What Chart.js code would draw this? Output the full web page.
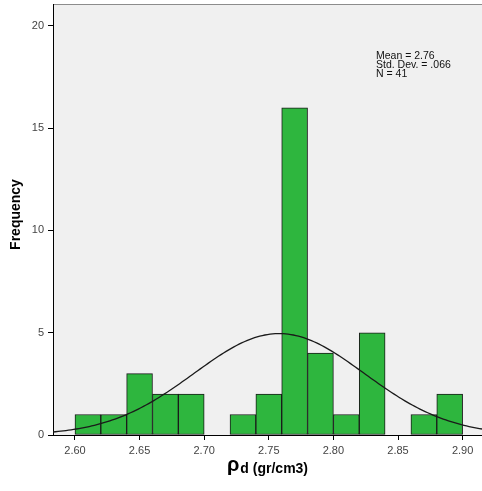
<!DOCTYPE html>
<html>
<head>
<meta charset="utf-8">
<script src="https://cdn.jsdelivr.net/npm/chart.js@4"></script>
<style>
  html, body { margin: 0; padding: 0; background: #fff; }
  #wrap { width: 482px; height: 491px; position: relative; }
</style>
</head>
<body>
<div id="wrap"><canvas id="hist"></canvas></div>
<script>
// ─── Histogram data (bin width 0.02) ───
const binStarts = [2.60, 2.62, 2.64, 2.66, 2.68, 2.70, 2.72, 2.74, 2.76, 2.78, 2.80, 2.82, 2.84, 2.86, 2.88];
const counts    = [1, 1, 3, 2, 2, 0, 1, 2, 16, 4, 1, 5, 0, 1, 2];
const binWidth = 0.02;

const xTicks = [2.60, 2.65, 2.70, 2.75, 2.80, 2.85, 2.90];
const yTicks = [0, 5, 10, 15, 20];

// summary statistics shown in the box
const mean = 2.758;
const sd = 0.066;
const n = 41;
const statLines = ['Mean = 2.76', 'Std. Dev. = .066', 'N = 41'];

const X_MIN = 2.583, X_MAX = 2.915;
const Y_MAX = 21.07;

Chart.defaults.font.family = '"Liberation Sans", Arial, sans-serif';

// normal curve scaled to the histogram (n * bin width * pdf)
const curve = [];
for (let x = X_MIN; x <= X_MAX + 1e-9; x += 0.002) {
    const z = (x - mean) / sd;
    curve.push({ x, y: n * binWidth * Math.exp(-0.5 * z * z) / (sd * Math.sqrt(2 * Math.PI)) });
}

const bars = binStarts.map((b, i) => ({ x: b + binWidth / 2, y: counts[i] }));

// grey plot background + top frame line
const plotBg = {
    id: 'plotBg',
    beforeDraw(chart) {
        const { ctx, chartArea: a } = chart;
        ctx.save();
        ctx.fillStyle = '#f0f0f0';
        ctx.fillRect(a.left, a.top, a.right - a.left, a.bottom - a.top);
        ctx.strokeStyle = '#8c8c8c';
        ctx.lineWidth = 1;
        ctx.beginPath();
        ctx.moveTo(a.left, a.top + 0.5);
        ctx.lineTo(a.right, a.top + 0.5);
        ctx.stroke();
        ctx.restore();
    }
};

// axis titles and stats box text
const labels = {
    id: 'labels',
    afterDraw(chart) {
        const { ctx, chartArea: a } = chart;
        ctx.save();
        ctx.fillStyle = '#000';

        // y title
        ctx.save();
        ctx.translate(16, 214.5);
        ctx.rotate(-Math.PI / 2);
        ctx.font = 'bold 14px "Liberation Sans", Arial, sans-serif';
        ctx.textAlign = 'center';
        ctx.textBaseline = 'middle';
        ctx.fillText('Frequency', 0, 0);
        ctx.restore();

        // x title: rho with bold subscript
        const rhoFont = 'bold 20px "Liberation Sans", Arial, sans-serif';
        const subFont = 'bold 14px "Liberation Sans", Arial, sans-serif';
        const sub = 'd (gr/cm3)';
        ctx.font = rhoFont;
        const wRho = ctx.measureText('ρ').width;
        ctx.font = subFont;
        const wSub = ctx.measureText(sub).width;
        const x0 = (a.left + a.right) / 2 - (wRho + 1 + wSub) / 2;
        ctx.textBaseline = 'alphabetic';
        ctx.textAlign = 'left';
        ctx.font = rhoFont;
        ctx.fillText('ρ', x0, 471);
        ctx.font = subFont;
        ctx.fillText(sub, x0 + wRho + 1, 472.5);

        // stats
        ctx.font = '10.5px "Liberation Sans", Arial, sans-serif';
        ctx.fillStyle = '#111';
        statLines.forEach((t, i) => ctx.fillText(t, 376, 59 + i * 9.2));
        ctx.restore();
    }
};

new Chart(document.getElementById('hist'), {
    data: {
        datasets: [
            {
                type: 'line',
                data: curve,
                borderColor: '#1a1a1a',
                borderWidth: 1.3,
                pointRadius: 0,
                tension: 0,
                order: 0
            },
            {
                type: 'bar',
                data: bars,
                backgroundColor: '#2eb63e',
                borderColor: '#1a1a1a',
                borderWidth: 1,
                borderSkipped: false,
                barPercentage: 1,
                categoryPercentage: 1,
                grouped: false,
                order: 1
            }
        ]
    },
    options: {
        responsive: true,
        maintainAspectRatio: false,
        animation: false,
        layout: { padding: { top: 4, left: 0, right: 0, bottom: 0 } },
        plugins: { legend: { display: false }, tooltip: { enabled: false } },
        scales: {
            x: {
                type: 'linear',
                min: X_MIN,
                max: X_MAX,
                offset: false,
                afterFit: s => { s.height = 56; s.paddingLeft = 0; s.paddingRight = 0; },
                afterBuildTicks: s => { s.ticks = xTicks.map(v => ({ value: v })); },
                grid: { drawOnChartArea: false, drawTicks: true, tickLength: 5, color: '#000', offset: false },
                border: { display: true, color: '#000', width: 1 },
                ticks: {
                    maxRotation: 0,
                    padding: 4,
                    color: '#444',
                    font: { size: 11 },
                    callback: v => v.toFixed(2)
                }
            },
            y: {
                min: 0,
                max: Y_MAX,
                afterFit: s => { s.width = 53; s.paddingTop = 0; s.paddingBottom = 0; },
                afterBuildTicks: s => { s.ticks = yTicks.map(v => ({ value: v })); },
                grid: { drawOnChartArea: false, drawTicks: true, tickLength: 5, color: '#000' },
                border: { display: true, color: '#000', width: 1 },
                ticks: { padding: 4, color: '#444', font: { size: 11 } }
            }
        }
    },
    plugins: [plotBg, labels]
});
</script>
</body>
</html>
